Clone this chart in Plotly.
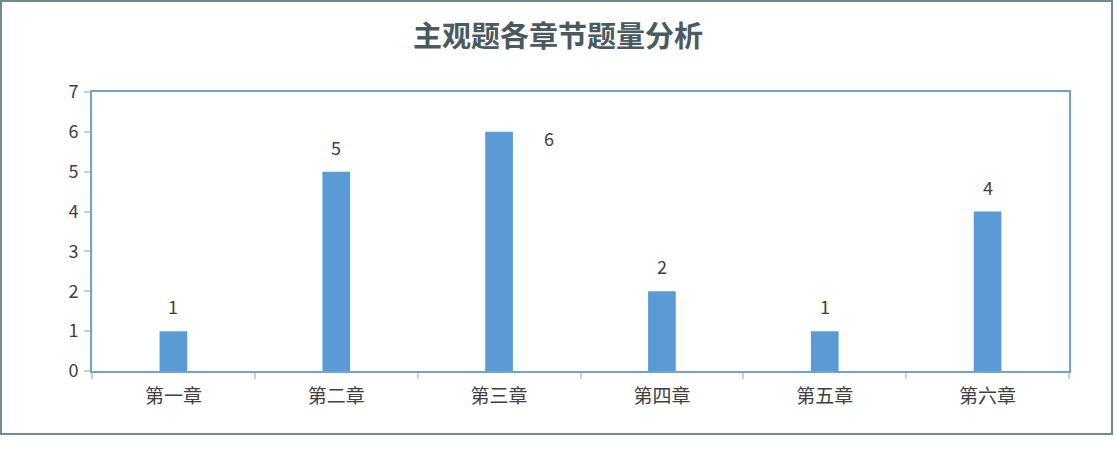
import plotly.graph_objects as go

categories = ["第一章", "第二章", "第三章", "第四章", "第五章", "第六章"]
values = [1, 5, 6, 2, 1, 4]
title_text = "主观题各章节题量分析"

FONT = "Noto Sans CJK SC, Microsoft YaHei, sans-serif"
W, H = 1115, 450
L, R, T, B = 92, 46, 92, 79
pw, ph = W - L - R, H - T - B

fig = go.Figure()
fig.add_trace(go.Bar(
    x=categories, y=values, width=0.17,
    marker=dict(color="#5b9bd5", line=dict(width=0)),
    hoverinfo="x+y",
))

for c, v in zip(categories, values):
    if v >= 6:
        fig.add_annotation(x=c, y=v, text=str(v), showarrow=False, xshift=50, yshift=-6,
                           font=dict(family=FONT, size=18, color="#404040"))
    else:
        fig.add_annotation(x=c, y=v, text=str(v), showarrow=False, yshift=25,
                           font=dict(family=FONT, size=18, color="#404040"))

# outer border
fig.add_shape(type="rect", xref="paper", yref="paper",
              x0=(1 - L) / pw, x1=(1112 - L) / pw,
              y0=(H - B - 434) / ph, y1=(H - B - 1) / ph,
              line=dict(color="#6e8a96", width=2), fillcolor="rgba(0,0,0,0)", layer="below")

fig.update_layout(
    width=W, height=H,
    margin=dict(l=L, r=R, t=T, b=B, pad=0),
    paper_bgcolor="white", plot_bgcolor="white",
    title=dict(text="<b>" + title_text + "</b>", x=558 / W, xanchor="center", y=1 - 37 / H, yanchor="middle",
               font=dict(family=FONT, size=29, color="#4a5a5e")),
    showlegend=False,
    xaxis=dict(
        showline=True, mirror=True, linecolor="#72a3cf", linewidth=2,
        ticks="outside", tickson="boundaries", ticklen=6, tickcolor="#c8d0d4", tickwidth=2,
        showgrid=False, zeroline=False, ticklabelstandoff=7,
        tickfont=dict(family=FONT, size=19, color="#404040"),
    ),
    yaxis=dict(
        range=[0, 7], dtick=1,
        showline=True, mirror=True, linecolor="#72a3cf", linewidth=2,
        ticks="outside", ticklen=6, tickcolor="#c8d0d4", tickwidth=2,
        showgrid=False, zeroline=False, ticklabelstandoff=2,
        tickfont=dict(family=FONT, size=18, color="#404040"),
    ),
)

fig.write_html("out.html", config={"displayModeBar": False},
               post_script="document.body.style.margin='0';document.body.style.overflow='hidden';")
